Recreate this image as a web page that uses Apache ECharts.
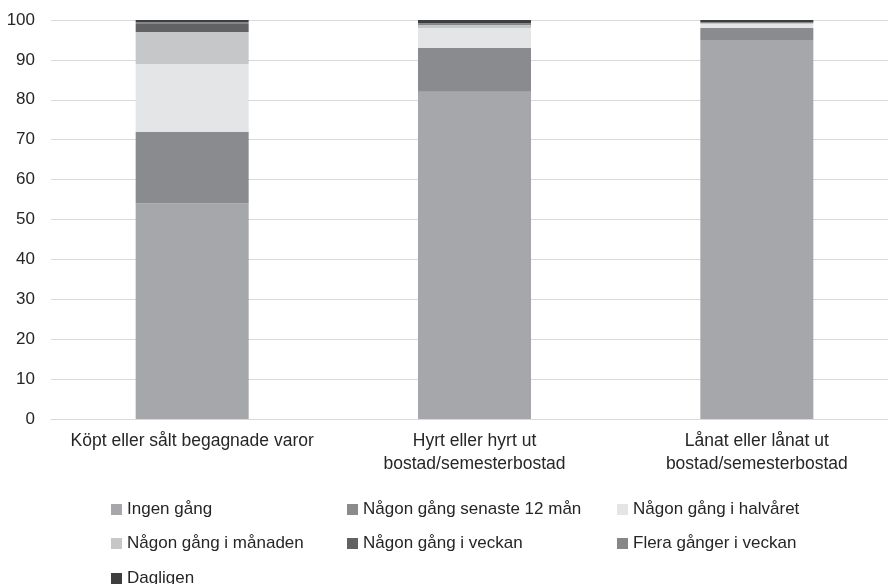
<!DOCTYPE html>
<html>
<head>
<meta charset="utf-8">
<script src="https://cdn.jsdelivr.net/npm/echarts@6/dist/echarts.min.js"></script>
<style>
  html, body { margin: 0; padding: 0; background: #fff; overflow: hidden; }
</style>
</head>
<body>
<!-- plot area runs past the right edge in the original, so the canvas is a bit wider than the window -->
<div id="chart" style="width: 900px; height: 584px;"></div>
<script>
// categories and values (percent)
var categories = [
  'Köpt eller sålt begagnade varor',
  'Hyrt eller hyrt ut\nbostad/semesterbostad',
  'Lånat eller lånat ut\nbostad/semesterbostad'
]
var seriesNames = [
  'Ingen gång',
  'Någon gång senaste 12 mån',
  'Någon gång i halvåret',
  'Någon gång i månaden',
  'Någon gång i veckan',
  'Flera gånger i veckan',
  'Dagligen'
]
var ingenGang = [54, 82, 95]
var senaste12 = [18, 11, 3]
var halvaret = [17, 5, 1]
var manaden = [8, 0.8, 0.3]
var veckan = [2, 0.2, 0.2]
var fleraGanger = [0.5, 0.2, 0]
var dagligen = [0.5, 0.8, 0.5]
var yTicks = [0, 10, 20, 30, 40, 50, 60, 70, 80, 90, 100]

var colors = ['#a6a7aa', '#8a8b8e', '#e4e5e7', '#c6c7c9', '#616264', '#86878a', '#3e3e40']
var values = [ingenGang, senaste12, halvaret, manaden, veckan, fleraGanger, dagligen]

var myChart = echarts.init(document.getElementById('chart'))

var textColor = '#262626'
var font = 'Liberation Sans'

// legend: one block per item, laid out in 3 columns x 3 rows
var legendCols = [106, 342, 612]
var legendRows = [496, 530, 565]
var legendSlots = [[0, 0], [1, 0], [2, 0], [0, 1], [1, 1], [2, 1], [0, 2]]
var legends = seriesNames.map(function (name, i) {
  return {
    left: legendCols[legendSlots[i][0]],
    top: legendRows[legendSlots[i][1]],
    itemWidth: 11,
    itemHeight: 11,
    itemGap: 0,
    icon: 'rect',
    textStyle: { fontSize: 17, color: textColor, fontFamily: font, padding: [0, 0, 0, 0] },
    data: [name]
  }
})

var option = {
  color: colors,
  animation: false,
  grid: {
    top: 20,
    left: 51,
    width: 847,
    height: 399,
    containLabel: false
  },
  legend: legends,
  xAxis: {
    type: 'category',
    data: categories,
    axisLine: { show: true, lineStyle: { color: '#d9d9d9' } },
    axisTick: { show: false },
    axisLabel: {
      fontSize: 17.5,
      color: textColor,
      fontFamily: font,
      lineHeight: 23,
      margin: 11,
      interval: 0
    }
  },
  yAxis: {
    type: 'value',
    min: 0,
    max: 100,
    interval: 10,
    axisLine: { show: false },
    axisTick: { show: false },
    axisLabel: {
      fontSize: 17,
      color: textColor,
      fontFamily: font,
      margin: 16,
      formatter: function (v) { return yTicks.indexOf(v) >= 0 ? String(v) : '' }
    },
    splitLine: { lineStyle: { color: '#d9d9d9', width: 1 } }
  },
  series: seriesNames.map(function (name, i) {
    return {
      name: name,
      type: 'bar',
      stack: 'total',
      barWidth: 113,
      data: values[i],
      itemStyle: { color: colors[i] }
    }
  })
}

option && myChart.setOption(option)
</script>
</body>
</html>
